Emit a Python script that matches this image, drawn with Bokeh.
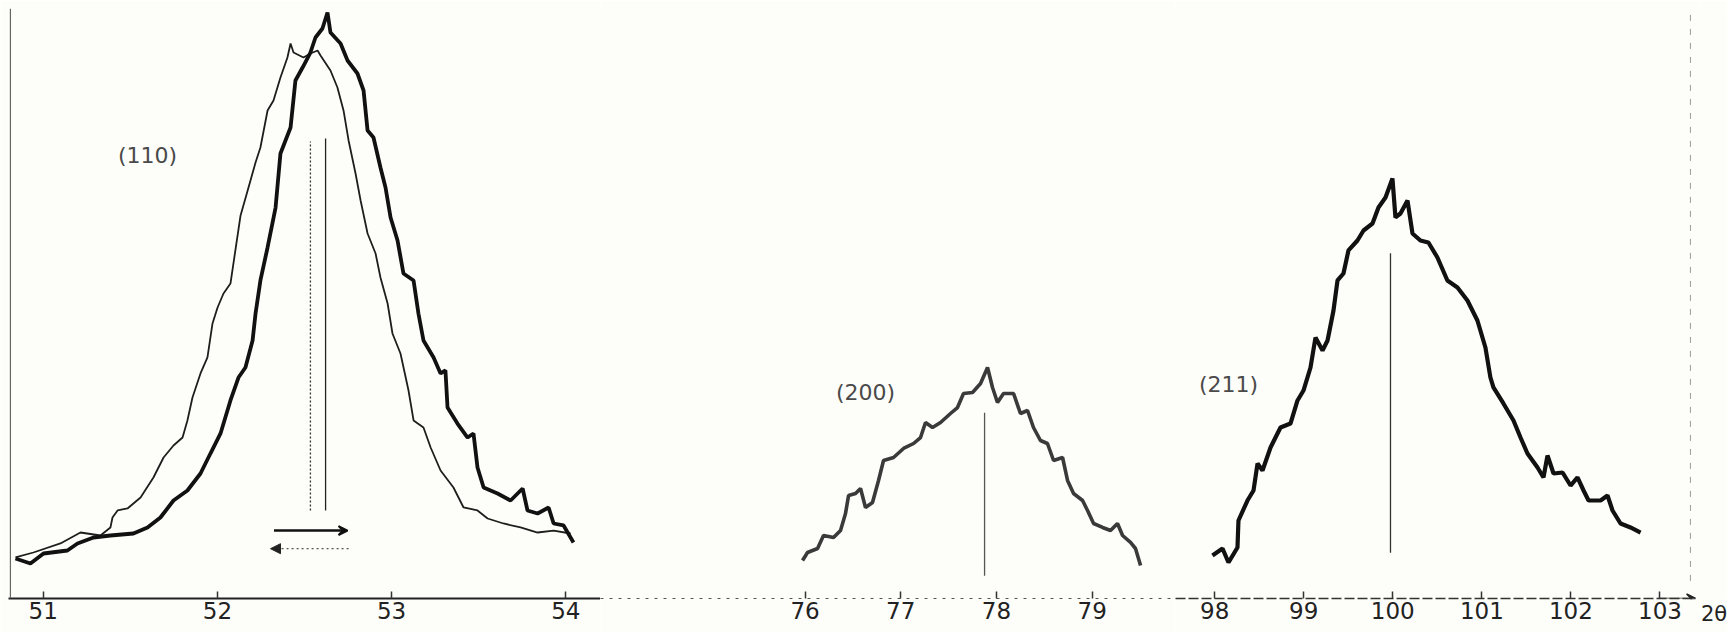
from bokeh.plotting import figure
from bokeh.layouts import row
from bokeh.models import ColumnDataSource, FixedTicker, Arrow, VeeHead, NormalHead, Span
from bokeh.core.properties import value
from bokeh.embed import file_html
from bokeh.resources import INLINE

# ---------------- data (2theta in degrees, intensity in arbitrary units) ----------------
# (110) reflection, thick trace
tt110_a = [50.841, 50.927, 51.002, 51.139, 51.197, 51.289, 51.386, 51.518, 51.599, 51.673,
           51.748, 51.828, 51.903, 51.960, 52.018, 52.075, 52.121, 52.161, 52.202, 52.219,
           52.247, 52.288, 52.334, 52.362, 52.420, 52.448, 52.489, 52.534, 52.563, 52.603,
           52.632, 52.649, 52.707, 52.747, 52.804, 52.839, 52.862, 52.896, 52.936, 52.965,
           52.994, 53.034, 53.068, 53.126, 53.154, 53.183, 53.241, 53.281, 53.309, 53.321,
           53.378, 53.436, 53.470, 53.493, 53.528, 53.608, 53.683, 53.752, 53.780, 53.838,
           53.901, 53.930, 53.987, 54.044]
i110_a = [6.83, 5.97, 7.68, 8.19, 9.39, 10.41, 10.75, 11.09, 12.12, 13.82,
          16.72, 18.43, 21.33, 24.74, 28.16, 33.79, 37.71, 39.42, 44.03, 48.63,
          54.27, 59.90, 66.72, 75.94, 80.38, 88.40, 90.61, 93.17, 95.73, 97.27,
          100.0, 96.59, 94.71, 91.81, 89.59, 86.69, 79.86, 78.67, 73.55, 70.14,
          65.02, 61.09, 55.46, 54.27, 48.63, 44.03, 41.13, 38.40, 38.91, 32.59,
          29.86, 27.47, 28.16, 22.35, 18.94, 17.92, 16.72, 18.77, 15.02, 14.51,
          15.53, 12.80, 12.46, 9.56]

# (110) reflection, thin trace
tt110_b = [50.841, 50.944, 51.099, 51.214, 51.329, 51.386, 51.398, 51.427, 51.484, 51.559,
           51.633, 51.691, 51.748, 51.800, 51.828, 51.857, 51.903, 51.943, 51.972, 52.001,
           52.035, 52.075, 52.133, 52.190, 52.219, 52.247, 52.288, 52.322, 52.362, 52.402,
           52.420, 52.437, 52.494, 52.534, 52.575, 52.592, 52.649, 52.689, 52.724, 52.753,
           52.793, 52.822, 52.862, 52.908, 52.936, 52.977, 53.005, 53.051, 53.097, 53.126,
           53.183, 53.224, 53.281, 53.355, 53.413, 53.493, 53.551, 53.642, 53.740, 53.838,
           53.930, 54.027]
i110_b = [7.00, 7.85, 9.39, 11.26, 10.75, 12.12, 13.82, 15.02, 15.36, 17.24,
          20.65, 24.06, 26.11, 27.47, 30.38, 34.30, 38.40, 41.13, 46.93, 49.66,
          52.05, 53.75, 65.36, 71.33, 74.40, 76.96, 83.28, 84.98, 88.91, 92.32,
          94.71, 93.17, 92.32, 93.00, 93.52, 92.66, 90.10, 87.20, 83.28, 78.16,
          72.53, 67.92, 62.29, 58.87, 54.78, 50.34, 45.22, 41.81, 35.49, 30.38,
          29.18, 25.77, 21.84, 18.94, 15.53, 15.02, 13.65, 12.80, 12.12, 11.26,
          11.60, 11.09]

# (200) reflection
tt200 = [75.974, 76.026, 76.131, 76.193, 76.298, 76.371, 76.423, 76.455, 76.528, 76.580,
         76.632, 76.705, 76.768, 76.820, 76.925, 77.029, 77.134, 77.207, 77.259, 77.332,
         77.416, 77.520, 77.593, 77.656, 77.750, 77.834, 77.907, 77.959, 78.011, 78.074,
         78.179, 78.251, 78.325, 78.387, 78.460, 78.533, 78.597, 78.691, 78.743, 78.806,
         78.900, 78.952, 79.015, 79.109, 79.192, 79.265, 79.318, 79.401, 79.453, 79.506]
i200 = [6.48, 7.85, 8.53, 10.75, 10.41, 11.60, 14.51, 17.58, 17.92, 18.77,
        15.53, 16.38, 20.14, 23.55, 24.06, 25.60, 26.45, 27.47, 30.03, 29.18,
        30.03, 31.57, 32.59, 34.98, 35.15, 36.69, 39.42, 36.01, 33.45, 34.98,
        34.98, 31.57, 32.08, 29.18, 26.96, 26.45, 23.55, 24.06, 20.14, 17.92,
        16.72, 15.02, 12.80, 12.12, 11.60, 12.80, 10.75, 9.56, 8.53, 5.63]

# (211) reflection
tt211 = [97.975, 98.088, 98.155, 98.256, 98.267, 98.368, 98.436, 98.481, 98.537, 98.627,
         98.739, 98.851, 98.930, 98.997, 99.076, 99.132, 99.211, 99.267, 99.334, 99.379,
         99.446, 99.502, 99.603, 99.671, 99.772, 99.839, 99.918, 99.996, 100.030, 100.086,
         100.165, 100.221, 100.310, 100.400, 100.501, 100.613, 100.726, 100.838, 100.950, 101.040,
         101.096, 101.130, 101.242, 101.355, 101.434, 101.512, 101.625, 101.692, 101.737, 101.805,
         101.906, 101.996, 102.074, 102.142, 102.198, 102.333, 102.411, 102.467, 102.557, 102.669,
         102.782]
i211 = [7.34, 8.53, 6.14, 8.70, 13.31, 16.72, 18.43, 23.04, 21.84, 25.77,
        29.18, 29.86, 33.79, 35.49, 39.42, 44.54, 42.32, 44.03, 49.15, 54.27,
        55.46, 59.39, 61.09, 62.80, 63.99, 66.72, 68.43, 71.67, 65.02, 65.70,
        67.92, 62.29, 61.09, 60.75, 58.19, 54.27, 53.07, 50.85, 47.44, 42.83,
        37.71, 36.01, 33.28, 30.38, 27.47, 24.74, 22.35, 20.65, 24.40, 21.33,
        21.50, 19.28, 20.65, 18.43, 16.72, 16.72, 17.58, 15.02, 12.80, 12.12,
        11.26]

# peak-position markers (2theta, bottom, top)
mark110_x = [52.534, 52.621]
mark110_y0 = [15.0, 15.0]
mark110_y1 = [78.0, 78.5]
mark200 = (77.876, 3.9, 31.7)
mark211 = (99.974, 7.8, 58.9)

# shift arrows under (110)
arrow_solid = (52.325, 52.747, 11.6)
arrow_dotted = (52.753, 52.305, 8.5)

# reflection labels
labels = [("(110)", 51.599, 75.6), ("(200)", 76.632, 35.2), ("(211)", 98.155, 36.5)]

ticks1 = [51, 52, 53, 54]
ticks2 = [76, 77, 78, 79]
ticks3 = [98, 99, 100, 101, 102, 103]
axis_title = "2θ"

# ---------------- layout ----------------
BG = "#fdfdf9"
Y_RANGE = (0, 100.68)
H = 632
FONT = "DejaVu Sans"


def make_fig(width, xr, ticks, dash, axis_color, axis_width, left=0):
    p = figure(width=width, height=H, x_range=xr, y_range=Y_RANGE,
               toolbar_location=None, output_backend="svg",
               min_border_left=left, min_border_right=0, min_border_top=8,
               min_border_bottom=34)
    p.background_fill_color = BG
    p.border_fill_color = BG
    p.outline_line_color = None
    p.grid.visible = False
    p.yaxis.visible = False
    ax = p.xaxis[0]
    ax.ticker = FixedTicker(ticks=ticks)
    ax.minor_tick_line_color = None
    ax.major_tick_in = 7
    ax.major_tick_out = 0
    ax.major_tick_line_color = "#333333"
    ax.major_tick_line_width = 1.5
    ax.axis_line_color = axis_color
    ax.axis_line_width = axis_width
    if dash:
        ax.axis_line_dash = dash
    ax.major_label_text_font = FONT
    ax.major_label_text_font_size = "23px"
    ax.major_label_text_color = "#222222"
    ax.major_label_standoff = 3
    return p


p1 = make_fig(600, (50.801, 54.199), ticks1, None, "#222222", 2, left=8)
p2 = make_fig(575, (73.863, 79.871), ticks2, "3 6", "#555555", 1.2)
p3 = make_fig(525, (97.560, 103.455), ticks3, "10 3", "#333333", 1.5)
p3.xaxis[0].bounds = (97.560, 103.40)

# narrow panel carrying the axis title at the end of the arrow
p4 = make_fig(27, (0, 1), [0.5], None, None, 1)
p4.xaxis[0].major_label_overrides = {0.5: axis_title}
p4.xaxis[0].major_tick_line_color = None
p4.xaxis[0].major_label_text_font_size = "21px"

# left vertical axis line
p1.add_layout(Span(location=50.812, dimension="height", line_color="#666666", line_width=1.2))

# (110) traces
p1.line(tt110_b, i110_b, line_color="#1e1e1e", line_width=1.8)
p1.line(tt110_a, i110_a, line_color="#111111", line_width=3.8)

# (110) peak markers
p1.segment(x0=[mark110_x[0]], y0=[mark110_y0[0]], x1=[mark110_x[0]], y1=[mark110_y1[0]],
           line_color="#333333", line_width=1.3, line_dash="2 2")
p1.segment(x0=[mark110_x[1]], y0=[mark110_y0[1]], x1=[mark110_x[1]], y1=[mark110_y1[1]],
           line_color="#222222", line_width=1.3)

# shift arrows
p1.add_layout(Arrow(end=VeeHead(size=9, line_color="#111111", line_width=2),
                    x_start=arrow_solid[0], y_start=arrow_solid[2],
                    x_end=arrow_solid[1], y_end=arrow_solid[2],
                    line_color="#111111", line_width=2.5))
p1.add_layout(Arrow(end=NormalHead(size=10, fill_color="#222222", line_color="#222222"),
                    x_start=arrow_dotted[0], y_start=arrow_dotted[2],
                    x_end=arrow_dotted[1], y_end=arrow_dotted[2],
                    line_color="#555555", line_width=1.2, line_dash="2 3"))

# (200) trace and marker
p2.line(tt200, i200, line_color="#3a3a3a", line_width=3.6)
p2.segment(x0=[mark200[0]], y0=[mark200[1]], x1=[mark200[0]], y1=[mark200[2]],
           line_color="#555555", line_width=1.3)

# (211) trace and marker
p3.line(tt211, i211, line_color="#111111", line_width=4.2)
p3.segment(x0=[mark211[0]], y0=[mark211[1]], x1=[mark211[0]], y1=[mark211[2]],
           line_color="#333333", line_width=1.3)

# right-side faint dashed guide line
p3.segment(x0=[103.342], y0=[3.0], x1=[103.342], y1=[100.68],
           line_color="#9a9a9a", line_width=1, line_dash="6 8")

# axis arrow
p3.add_layout(Arrow(end=VeeHead(size=9, line_color="#222222", line_width=1.5, fill_color="#222222"),
                    x_start=103.0, y_start=0, x_end=103.40, y_end=0,
                    line_color="#333333", line_width=1.5))

# reflection labels
for (txt, xx, yy), p in zip(labels, [p1, p2, p3]):
    src = ColumnDataSource(dict(x=[xx], y=[yy], t=[txt]))
    p.text(x="x", y="y", text="t", source=src, text_font=value(FONT),
           text_font_size="22px", text_color="#4a4a4a",
           text_align="center", text_baseline="middle")

layout = row(p1, p2, p3, p4, spacing=0)
open("out.html", "w").write(file_html(layout, INLINE))
